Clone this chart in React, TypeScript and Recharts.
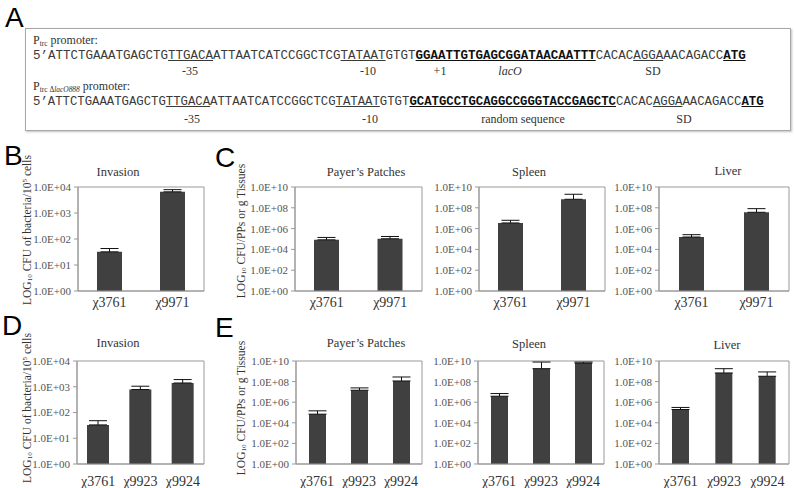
import React from 'react';
import { BarChart, Bar, XAxis, YAxis, ErrorBar, ReferenceArea } from 'recharts';

// ---------- data ----------
const strainsBC = ['χ3761', 'χ9971'];
const strainsDE = ['χ3761', 'χ9923', 'χ9924'];

const invasionTicks = [1, 10, 100, 1000, 10000];
const invasionTickLabels = ['1.0E+00', '1.0E+01', '1.0E+02', '1.0E+03', '1.0E+04'];
const tissueTicks = [1, 1e2, 1e4, 1e6, 1e8, 1e10];
const tissueTickLabels = ['1.0E+00', '1.0E+02', '1.0E+04', '1.0E+06', '1.0E+08', '1.0E+10'];

// Panel B: invasion
const bInvasion = [32, 6500];
const bInvasionErr = [11, 1400];
// Panel C: tissues
const cPatches = [83000, 105000];
const cPatchesErr = [58000, 69000];
const cSpleen = [3.5e6, 6.6e8];
const cSpleenErr = [2.8e6, 1.34e9];
const cLiver = [1.55e5, 3.7e7];
const cLiverErr = [1.05e5, 4.6e7];
// Panel D: invasion
const dInvasion = [33, 780, 1400];
const dInvasionErr = [15, 270, 500];
// Panel E: tissues
const ePatches = [69000, 1.45e7, 1.15e8];
const ePatchesErr = [76000, 1.0e7, 1.65e8];
const eSpleen = [3.8e6, 1.8e9, 6.3e9];
const eSpleenErr = [3.1e6, 6.1e9, 1.6e9];
const eLiver = [1.95e5, 6.9e8, 3.3e8];
const eLiverErr = [1.15e5, 1.1e9, 5.4e8];

// ---------- styles ----------
const SERIF = '"Liberation Serif", "Times New Roman", serif';
const SANS = '"Liberation Sans", Arial, sans-serif';
const MONO = '"Liberation Mono", "Courier New", monospace';
const FRAME = '#999999';
const BAR = '#404040';

type Rect = { x: number; y: number; w: number; h: number };

function MiniChart(props: {
  rect: Rect;
  names: string[];
  values: number[];
  errors: number[];
  ticks: number[];
  tickLabels: string[];
  barSize: number;
  labelGap: number;
}) {
  const { rect, names, values, errors, ticks, tickLabels, barSize, labelGap } = props;
  const data = names.map((n, i) => ({ name: n, value: values[i], err: [0, errors[i]] }));
  const yw = 60;
  const mt = 8;
  const mr = 8;
  const xh = 34;
  const lo = ticks[0];
  const hi = ticks[ticks.length - 1];
  return (
    <div style={{ position: 'absolute', left: rect.x - yw, top: rect.y - mt }}>
      <BarChart
        width={rect.w + yw + mr}
        height={rect.h + mt + xh}
        data={data}
        margin={{ top: mt, right: mr, bottom: 0, left: 0 }}
      >
        <XAxis
          dataKey="name"
          height={xh}
          interval={0}
          axisLine={{ stroke: FRAME }}
          tickLine={false}
          tickSize={0}
          tickMargin={labelGap}
          tick={{ fill: '#333', fontSize: 14, fontFamily: SERIF }}
        />
        <YAxis
          scale="log"
          domain={[lo, hi]}
          ticks={ticks}
          allowDataOverflow
          interval={0}
          width={yw}
          axisLine={{ stroke: FRAME }}
          tickLine={{ stroke: FRAME }}
          tickSize={4}
          tickMargin={3}
          tick={{ fill: '#555', fontSize: 11, fontFamily: SERIF }}
          tickFormatter={(v: number) => {
            const i = ticks.indexOf(v);
            return i >= 0 ? tickLabels[i] : '';
          }}
        />
        <ReferenceArea y1={lo} y2={hi} fill="none" stroke={FRAME} strokeWidth={1} ifOverflow="visible" />
        <Bar dataKey="value" fill={BAR} barSize={barSize} isAnimationActive={false}>
          <ErrorBar dataKey="err" width={9} stroke="#111" strokeWidth={1} direction="y" />
        </Bar>
      </BarChart>
    </div>
  );
}

function Txt(props: {
  x: number;
  y: number;
  size?: number;
  font?: string;
  anchor?: 'start' | 'middle' | 'end';
  color?: string;
  rotate?: boolean;
  italic?: boolean;
  children: React.ReactNode;
}) {
  const { x, y, size = 13, font = SERIF, anchor = 'middle', color = '#333', rotate = false, italic = false } = props;
  const tx = anchor === 'middle' ? '-50%' : anchor === 'end' ? '-100%' : '0';
  return (
    <div
      style={{
        position: 'absolute',
        left: x,
        top: y,
        transform: `translate(${tx}, -50%)${rotate ? ' rotate(-90deg)' : ''}`,
        fontFamily: font,
        fontSize: size,
        lineHeight: 1,
        color,
        whiteSpace: 'nowrap',
        fontStyle: italic ? 'italic' : 'normal',
      }}
    >
      {props.children}
    </div>
  );
}

type Seg = { t: string; u?: boolean; b?: boolean };
const seq1: Seg[] = [
  { t: '5’ATTCTGAAATGAGCTG' },
  { t: 'TTGACA', u: true },
  { t: 'ATTAATCATCCGGCTCG' },
  { t: 'TATAAT', u: true },
  { t: 'GTGT' },
  { t: 'GGAATTGTGAGCGGATAACAATTT', u: true, b: true },
  { t: 'CACAC' },
  { t: 'AGGA', u: true },
  { t: 'AACAGACC' },
  { t: 'ATG', u: true, b: true },
];
const seq2: Seg[] = [
  { t: '5’ATTCTGAAATGAGCTG' },
  { t: 'TTGACA', u: true },
  { t: 'ATTAATCATCCGGCTCG' },
  { t: 'TATAAT', u: true },
  { t: 'GTGT' },
  { t: 'GCATGCCTGCAGGCCGGGTACCGAGCTC', u: true, b: true },
  { t: 'CACAC' },
  { t: 'AGGA', u: true },
  { t: 'AACAGACC' },
  { t: 'ATG', u: true, b: true },
];

function Sequence(props: { segs: Seg[]; x: number; y: number; size: number }) {
  return (
    <div
      style={{
        position: 'absolute',
        left: props.x,
        top: props.y - 7,
        fontFamily: MONO,
        fontSize: props.size,
        lineHeight: '14px',
        whiteSpace: 'pre',
        color: '#3a3a3a',
      }}
    >
      {props.segs.map((s, i) => (
        <span
          key={i}
          style={{
            textDecoration: s.u ? 'underline' : 'none',
            fontWeight: s.b ? 'bold' : 'normal',
            color: s.b ? '#111' : '#3a3a3a',
          }}
        >
          {s.t}
        </span>
      ))}
    </div>
  );
}

export default function App() {
  const sub = { fontSize: '0.62em', verticalAlign: '-0.25em' } as React.CSSProperties;
  const sup = { fontSize: '0.62em', verticalAlign: '0.45em' } as React.CSSProperties;
  return (
    <div
      style={{
        position: 'absolute',
        left: 0,
        top: 0,
        width: 795,
        height: 488,
        background: '#fff',
        overflow: 'hidden',
      }}
    >
      {/* Panel A */}
      <Txt x={5} y={18} size={28} font={SANS} anchor="start" color="#000">A</Txt>
      <div
        style={{
          position: 'absolute',
          left: 25,
          top: 28,
          width: 764,
          height: 101,
          border: '1px solid #a8a8a8',
          boxShadow: '1px 1px 2px rgba(0,0,0,0.25)',
        }}
      />
      <Txt x={33} y={41} size={12} anchor="start">
        P<span style={sub}>trc</span> promoter:
      </Txt>
      <Sequence segs={seq1} x={33} y={56} size={12.5} />
      <Txt x={190} y={71} size={12}>-35</Txt>
      <Txt x={368} y={71} size={12}>-10</Txt>
      <Txt x={440} y={71} size={12}>+1</Txt>
      <Txt x={510} y={71} size={12} italic>lacO</Txt>
      <Txt x={653} y={71} size={12}>SD</Txt>
      <Txt x={33} y={87} size={12} anchor="start">
        P<span style={sub}>trc Δ<i>lacO888</i></span> promoter:
      </Txt>
      <Sequence segs={seq2} x={33} y={102} size={12.3} />
      <Txt x={192} y={119} size={12}>-35</Txt>
      <Txt x={370} y={119} size={12}>-10</Txt>
      <Txt x={523} y={119} size={12}>random sequence</Txt>
      <Txt x={684} y={119} size={12}>SD</Txt>

      {/* Row 1 */}
      <Txt x={4} y={156} size={28} font={SANS} anchor="start" color="#000">B</Txt>
      <Txt x={215} y={158} size={28} font={SANS} anchor="start" color="#000">C</Txt>
      <Txt x={28} y={230} size={11.5} rotate>
        LOG<span style={sub}>10</span> CFU of bacteria/10<span style={sup}>5</span> cells
      </Txt>
      <Txt x={242} y={231} size={11.5} rotate>
        LOG<span style={sub}>10</span> CFU/PPs or g Tissues
      </Txt>
      <Txt x={118} y={172} size={12.5}>Invasion</Txt>
      <Txt x={366} y={172} size={12.5}>Payer’s Patches</Txt>
      <Txt x={529} y={172} size={12.5}>Spleen</Txt>
      <Txt x={728} y={171} size={12.5}>Liver</Txt>

      <MiniChart rect={{ x: 78, y: 187, w: 126, h: 104 }} names={strainsBC} values={bInvasion} errors={bInvasionErr}
        ticks={invasionTicks} tickLabels={invasionTickLabels} barSize={25} labelGap={6} />
      <MiniChart rect={{ x: 295, y: 187, w: 127, h: 104 }} names={strainsBC} values={cPatches} errors={cPatchesErr}
        ticks={tissueTicks} tickLabels={tissueTickLabels} barSize={25} labelGap={6} />
      <MiniChart rect={{ x: 479, y: 187, w: 126, h: 104 }} names={strainsBC} values={cSpleen} errors={cSpleenErr}
        ticks={tissueTicks} tickLabels={tissueTickLabels} barSize={25} labelGap={6} />
      <MiniChart rect={{ x: 659, y: 187, w: 130, h: 104 }} names={strainsBC} values={cLiver} errors={cLiverErr}
        ticks={tissueTicks} tickLabels={tissueTickLabels} barSize={25} labelGap={6} />

      {/* Row 2 */}
      <Txt x={2} y={326} size={28} font={SANS} anchor="start" color="#000">D</Txt>
      <Txt x={215} y={328} size={28} font={SANS} anchor="start" color="#000">E</Txt>
      <Txt x={28} y={408} size={11.5} rotate>
        LOG<span style={sub}>10</span> CFU of bacteria/10<span style={sup}>5</span> cells
      </Txt>
      <Txt x={242} y={408} size={11.5} rotate>
        LOG<span style={sub}>10</span> CFU/PPs or g Tissues
      </Txt>
      <Txt x={118} y={343} size={12.5}>Invasion</Txt>
      <Txt x={366} y={343} size={12.5}>Payer’s Patches</Txt>
      <Txt x={529} y={344} size={12.5}>Spleen</Txt>
      <Txt x={727} y={345} size={12.5}>Liver</Txt>

      <MiniChart rect={{ x: 77, y: 361, w: 127, h: 103 }} names={strainsDE} values={dInvasion} errors={dInvasionErr}
        ticks={invasionTicks} tickLabels={invasionTickLabels} barSize={22} labelGap={12} />
      <MiniChart rect={{ x: 296, y: 361, w: 126, h: 103 }} names={strainsDE} values={ePatches} errors={ePatchesErr}
        ticks={tissueTicks} tickLabels={tissueTickLabels} barSize={17} labelGap={12} />
      <MiniChart rect={{ x: 478, y: 361, w: 126, h: 103 }} names={strainsDE} values={eSpleen} errors={eSpleenErr}
        ticks={tissueTicks} tickLabels={tissueTickLabels} barSize={17} labelGap={12} />
      <MiniChart rect={{ x: 659, y: 361, w: 130, h: 103 }} names={strainsDE} values={eLiver} errors={eLiverErr}
        ticks={tissueTicks} tickLabels={tissueTickLabels} barSize={17} labelGap={12} />
    </div>
  );
}
